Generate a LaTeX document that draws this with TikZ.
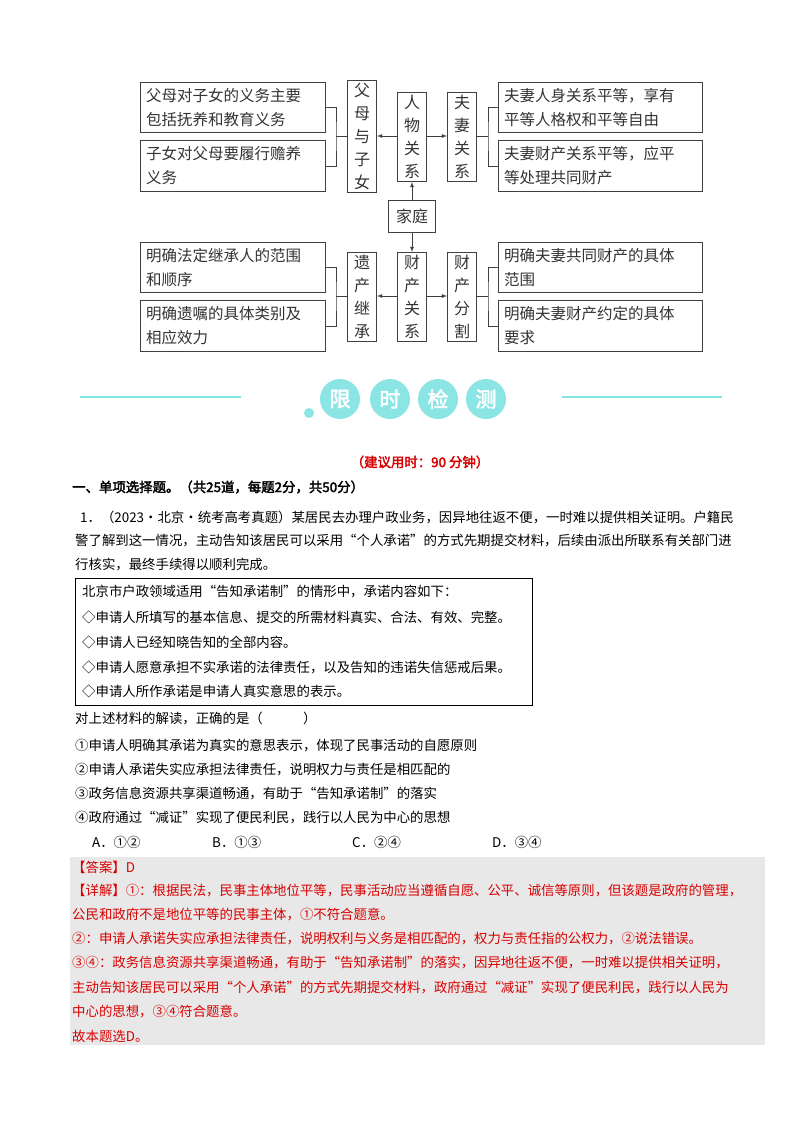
\documentclass[tikz,border=0pt]{standalone}
\usepackage{fontspec}
\setmainfont{Noto Sans CJK SC}[AutoFakeBold=2.5]
\begin{document}
\begin{tikzpicture}[x=1pt,y=-1pt,
  bx/.style={draw=black!75,line width=1pt,inner sep=0pt},
  tb/.style={font=\fontsize{15.5}{24}\selectfont,anchor=north west,align=left,inner sep=0pt,text=black!80},
  vt/.style={font=\fontsize{16}{23}\selectfont,align=center,inner sep=0pt,text=black!80},
  ln/.style={draw=black!75,line width=0.8pt},
  ar/.style={ln,-latex},
  body/.style={font=\fontsize{13.4}{16}\selectfont,anchor=west,inner sep=0pt},
  rd/.style={body,text=red!85!black},
  circ/.style={circle,fill=teal!45!cyan!45,minimum size=40pt,inner sep=0pt,text=white,font=\fontsize{21}{21}\selectfont\bfseries}]
\useasboundingbox (0,0) rectangle (800,1132);
% top diagram boxes
\node[bx,minimum width=185pt,minimum height=50pt,anchor=north west] (l1) at (140,82) {};
\node[tb] at (146,88) {父母对子女的义务主要\\包括抚养和教育义务};
\node[bx,minimum width=185pt,minimum height=51pt,anchor=north west] (l2) at (140,140) {};
\node[tb] at (146,146) {子女对父母要履行赡养\\义务};
\node[bx,minimum width=204pt,minimum height=50pt,anchor=north west] (r1) at (498,82) {};
\node[tb] at (504,88) {夫妻人身关系平等，享有\\平等人格权和平等自由};
\node[bx,minimum width=204pt,minimum height=51pt,anchor=north west] (r2) at (498,140) {};
\node[tb] at (504,146) {夫妻财产关系平等，应平\\等处理共同财产};
\node[bx,minimum width=29pt,minimum height=112pt,anchor=north west,vt] (fm) at (347,80) {父\\母\\与\\子\\女};
\node[bx,minimum width=29pt,minimum height=89pt,anchor=north west,vt] (rw) at (397,92) {人\\物\\关\\系};
\node[bx,minimum width=29pt,minimum height=89pt,anchor=north west,vt] (fq) at (447,92) {夫\\妻\\关\\系};
\node[bx,minimum width=47pt,minimum height=32pt,anchor=north west,vt] (jt) at (388,200) {家庭};
\node[bx,minimum width=185pt,minimum height=50pt,anchor=north west] (l3) at (140,242) {};
\node[tb] at (146,248) {明确法定继承人的范围\\和顺序};
\node[bx,minimum width=185pt,minimum height=51pt,anchor=north west] (l4) at (140,300) {};
\node[tb] at (146,306) {明确遗嘱的具体类别及\\相应效力};
\node[bx,minimum width=204pt,minimum height=50pt,anchor=north west] (r3) at (498,242) {};
\node[tb] at (504,248) {明确夫妻共同财产的具体\\范围};
\node[bx,minimum width=204pt,minimum height=51pt,anchor=north west] (r4) at (498,300) {};
\node[tb] at (504,306) {明确夫妻财产约定的具体\\要求};
\node[bx,minimum width=29pt,minimum height=89pt,anchor=north west,vt] (yc) at (347,252) {遗\\产\\继\\承};
\node[bx,minimum width=29pt,minimum height=89pt,anchor=north west,vt] (cc) at (397,252) {财\\产\\关\\系};
\node[bx,minimum width=29pt,minimum height=89pt,anchor=north west,vt] (cf) at (447,252) {财\\产\\分\\割};
% connectors
\coordinate (bl) at (336,136); \coordinate (br) at (488,136);
\coordinate (bl2) at (336,296); \coordinate (br2) at (488,296);
\draw[ln] (l1.east) -| (bl) |- (l2.east); \draw[ln] (bl) -- (fm.west|-bl);
\draw[ln] (r1.west) -| (br) |- (r2.west); \draw[ln] (br) -- (fq.east|-br);
\draw[ln] (l3.east) -| (bl2) |- (l4.east); \draw[ln] (bl2) -- (yc.west|-bl2);
\draw[ln] (r3.west) -| (br2) |- (r4.west); \draw[ln] (br2) -- (cf.east|-br2);
\draw[ar] (rw.west|-bl) -- (fm.east|-bl);
\draw[ar] (rw.east|-br) -- (fq.west|-br);
\draw[ar] (cc.west|-bl2) -- (yc.east|-bl2);
\draw[ar] (cc.east|-br2) -- (cf.west|-br2);
\draw[ar] (jt.north) -- (jt.north|-rw.south);
\draw[ar] (jt.south) -- (jt.south|-cc.north);
% banner
\draw[teal!40!cyan!50,line width=1.5pt] (80,397) -- (241,397);
\draw[teal!40!cyan!50,line width=1.5pt] (562,397) -- (722,397);
\node[circle,fill=teal!45!cyan!45,minimum size=10pt] (dot) at (309,413) {};
\node[circ] (c1) at (340,399) {限};
\node[circ] (c2) at (390,399) {时};
\node[circ] (c3) at (438,399) {检};
\node[circ] (c4) at (486,399) {测};
% texts
\node[body,anchor=center,text=red!85!black,font=\fontsize{13.4}{16}\selectfont\bfseries] (tm) at (420,462) {（建议用时：90 分钟）};
\node[body,font=\fontsize{13.4}{16}\selectfont\bfseries] (h1) at (72,487) {一、单项选择题。（共25道，每题2分，共50分）};
\node[body] (p1) at (80,517) {1．（2023·北京·统考高考真题）某居民去办理户政业务，因异地往返不便，一时难以提供相关证明。户籍民};
\node[body] (p2) at (75,541) {警了解到这一情况，主动告知该居民可以采用“个人承诺”的方式先期提交材料，后续由派出所联系有关部门进};
\node[body] (p3) at (75,565) {行核实，最终手续得以顺利完成。};
\node[draw=black,line width=1pt,minimum width=457pt,minimum height=127pt,anchor=north west] (mat) at (75,578) {};
\node[body] at (82,592) {北京市户政领域适用“告知承诺制”的情形中，承诺内容如下：};
\node[body] at (82,617) {◇申请人所填写的基本信息、提交的所需材料真实、合法、有效、完整。};
\node[body] at (82,642) {◇申请人已经知晓告知的全部内容。};
\node[body] at (82,667) {◇申请人愿意承担不实承诺的法律责任，以及告知的违诺失信惩戒后果。};
\node[body] at (82,691) {◇申请人所作承诺是申请人真实意思的表示。};
\node[body] at (75,718) {对上述材料的解读，正确的是（　　　）};
\node[body] at (75,746) {①申请人明确其承诺为真实的意思表示，体现了民事活动的自愿原则};
\node[body] at (75,770) {②申请人承诺失实应承担法律责任，说明权力与责任是相匹配的};
\node[body] at (75,794) {③政务信息资源共享渠道畅通，有助于“告知承诺制”的落实};
\node[body] at (75,818) {④政府通过“减证”实现了便民利民，践行以人民为中心的思想};
\node[body] at (92,842) {A．①②};
\node[body] at (212,842) {B．①③};
\node[body] at (352,842) {C．②④};
\node[body] at (492,842) {D．③④};
\fill[black!9] (70,857) rectangle (765,1045);
\node[rd] at (72,867) {【答案】D};
\node[rd] at (72,891) {【详解】①：根据民法，民事主体地位平等，民事活动应当遵循自愿、公平、诚信等原则，但该题是政府的管理，};
\node[rd] at (72,915) {公民和政府不是地位平等的民事主体，①不符合题意。};
\node[rd] at (72,939) {②：申请人承诺失实应承担法律责任，说明权利与义务是相匹配的，权力与责任指的公权力，②说法错误。};
\node[rd] at (72,963) {③④：政务信息资源共享渠道畅通，有助于“告知承诺制”的落实，因异地往返不便，一时难以提供相关证明，};
\node[rd] at (72,988) {主动告知该居民可以采用“个人承诺”的方式先期提交材料，政府通过“减证”实现了便民利民，践行以人民为};
\node[rd] at (72,1012) {中心的思想，③④符合题意。};
\node[rd] at (72,1036) {故本题选D。};
\end{tikzpicture}
\end{document}
